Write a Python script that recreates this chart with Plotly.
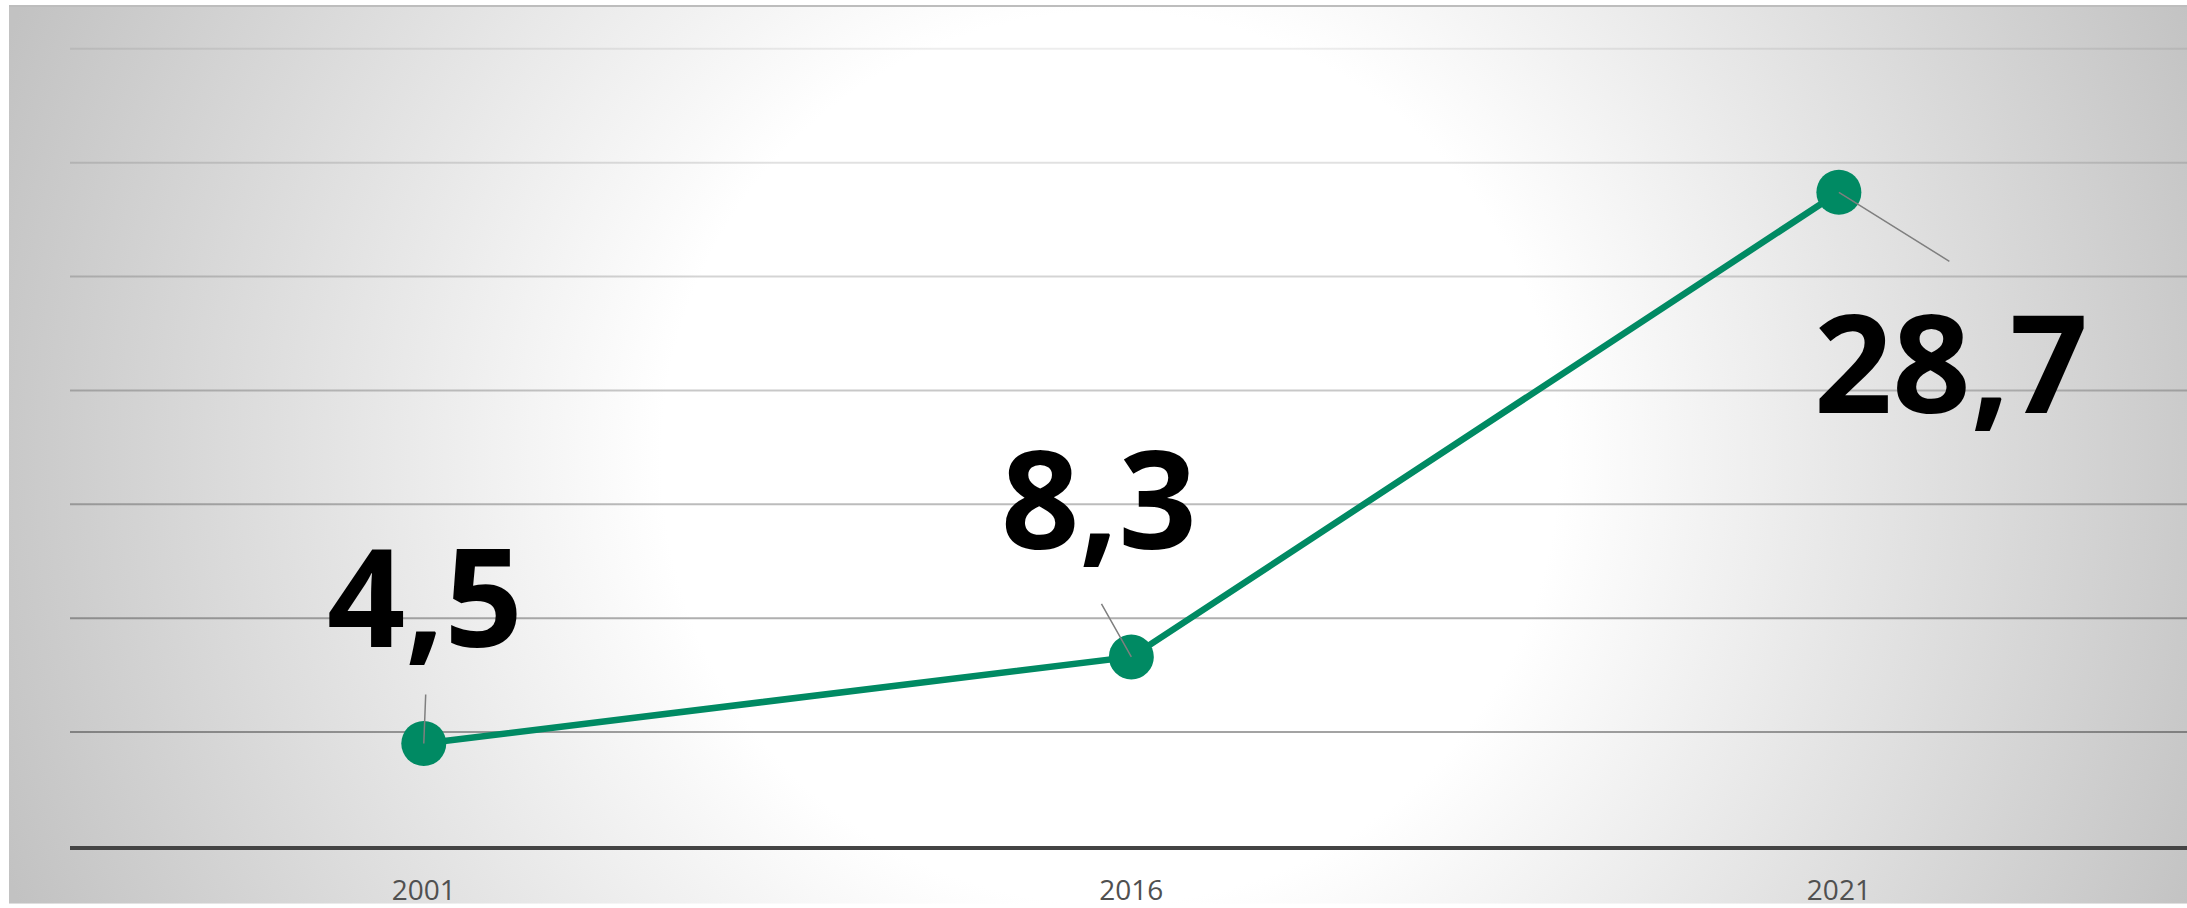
import base64
import plotly.graph_objects as go

# ---- data ----
years = ["2001", "2016", "2021"]
values = [4.5, 8.3, 28.7]
value_labels = ["4,5", "8,3", "28,7"]
grid_values = [5, 10, 15, 20, 25, 30, 35]

# ---- styling / layout constants ----
FIG_W, FIG_H = 2187, 908
M_L, M_R, M_T, M_B = 70, 0, 26, 58
PLOT_W = FIG_W - M_L - M_R
PLOT_H = FIG_H - M_T - M_B
GREEN = "#008a63"

# label offsets (pixels) relative to each point: text centre and leader-line tail
label_shift = [(1, 150), (-32, 161), (112, -168)]
leader_tail = [(2, -51), (-31, -55), (112, 70)]

# background: radial grey gradient with white centre
svg = f'''<svg xmlns="http://www.w3.org/2000/svg" width="{FIG_W}" height="{FIG_H}" viewBox="0 0 {FIG_W} {FIG_H}">
<defs><radialGradient id="g" gradientUnits="userSpaceOnUse" cx="1110" cy="460" r="1180">
<stop offset="0.38" stop-color="#ffffff"/><stop offset="1" stop-color="#c2c2c2"/>
</radialGradient></defs>
<rect x="0" y="0" width="{FIG_W}" height="{FIG_H}" fill="#ffffff"/>
<rect x="9" y="5" width="{FIG_W-9}" height="{FIG_H-5}" fill="url(#g)"/>
<line x1="9" y1="6" x2="{FIG_W}" y2="6" stroke="#bdbdbd" stroke-width="2"/>
</svg>'''
bg_src = "data:image/svg+xml;base64," + base64.b64encode(svg.encode()).decode()

x_idx = list(range(len(years)))

fig = go.Figure()
fig.add_trace(go.Scatter(
    x=x_idx, y=values, mode="lines+markers",
    line=dict(color=GREEN, width=6.5),
    marker=dict(color=GREEN, size=45, line=dict(width=0)),
    hoverinfo="skip", showlegend=False,
))

shapes = []
n = len(grid_values)
for i, gv in enumerate(grid_values):
    alpha = 0.36 - 0.29 * i / (n - 1)
    shapes.append(dict(type="line", xref="paper", yref="y", x0=0, x1=1, y0=gv, y1=gv,
                       line=dict(color=f"rgba(0,0,0,{alpha:.3f})", width=2), layer="below"))

annotations = []
for i, (v, lab) in enumerate(zip(values, value_labels)):
    ax, ay = leader_tail[i]
    annotations.append(dict(x=x_idx[i], y=v, xref="x", yref="y", text=" ", showarrow=True,
                            ax=ax, ay=ay, arrowhead=0, arrowwidth=1.5, arrowcolor="#7f7f7f",
                            standoff=0, startstandoff=0, font=dict(size=1)))
    xs, ys = label_shift[i]
    annotations.append(dict(x=x_idx[i], y=v, xref="x", yref="y", text=f"<b>{lab}</b>", showarrow=False,
                            xshift=xs, yshift=ys,
                            font=dict(family="Open Sans", size=137, color="#000000")))

fig.update_layout(
    width=FIG_W, height=FIG_H,
    margin=dict(l=M_L, r=M_R, t=M_T, b=M_B, pad=0),
    paper_bgcolor="#ffffff", plot_bgcolor="rgba(0,0,0,0)",
    images=[dict(source=bg_src, xref="paper", yref="paper",
                 x=-M_L / PLOT_W, y=1 + M_T / PLOT_H,
                 sizex=FIG_W / PLOT_W, sizey=FIG_H / PLOT_H,
                 xanchor="left", yanchor="top", sizing="stretch", layer="below")],
    shapes=shapes,
    annotations=annotations,
    xaxis=dict(range=[-0.5, 2.492], tickmode="array", tickvals=x_idx, ticktext=years,
               showgrid=False, zeroline=False,
               showline=True, linecolor="#444444", linewidth=3.5, ticks="",
               ticklabelstandoff=17,
               tickfont=dict(family="Open Sans", size=28, color="#505050"),
               fixedrange=True),
    yaxis=dict(range=[0, 36], showgrid=False, zeroline=False, showline=False,
               showticklabels=False, ticks="", fixedrange=True),
    showlegend=False,
)

fig.write_html("out.html", config={"displayModeBar": False},
               post_script="document.body.style.margin='0';document.body.style.overflow='hidden';")
